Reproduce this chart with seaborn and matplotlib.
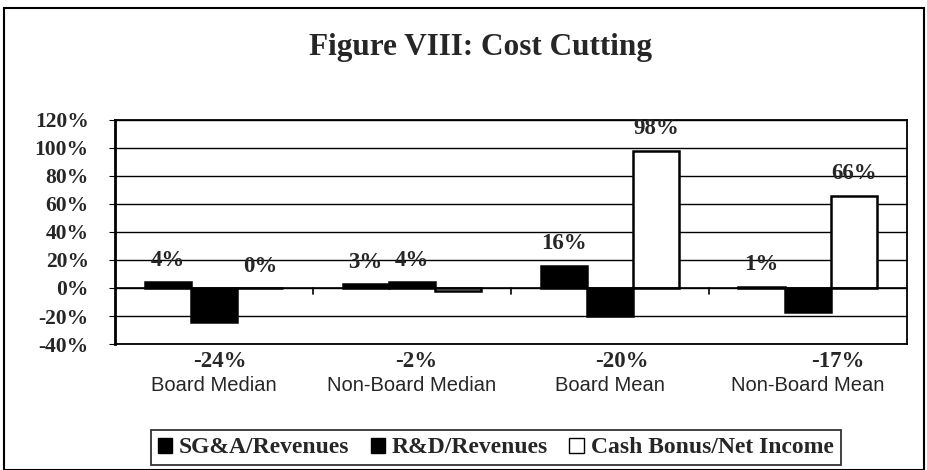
import numpy as np
import pandas as pd
import matplotlib.pyplot as plt
import seaborn as sns
from matplotlib.patches import Patch, Rectangle


CATEGORIES = ['Board Median', 'Non-Board Median', 'Board Mean', 'Non-Board Mean']
SERIES = ['SG&A/Revenues', 'R&D/Revenues', 'Cash Bonus/Net Income']
SGA = [4, 3, 16, 1]
RND = [-24, 4, -20, -17]
BONUS = [0, -2, 98, 66]
Y_TICKS = [-40, -20, 0, 20, 40, 60, 80, 100, 120]

COLORS = ['black', 'black', 'white']
SERIF = 'Liberation Serif'
SANS = 'Liberation Sans'


def build_frame():
    rows = []
    for name, vals in zip(SERIES, [SGA, RND, BONUS]):
        for cat, v in zip(CATEGORIES, vals):
            rows.append({'category': cat, 'series': name, 'value': v})
    return pd.DataFrame(rows)


def main():
    sns.set_style('white')
    df = build_frame()

    fig = plt.figure(figsize=(9.28, 4.70), dpi=100)
    ax = fig.add_axes([0.124, 0.268, 0.853, 0.477])

    sns.barplot(data=df, x='category', y='value', hue='series',
                order=CATEGORIES, hue_order=SERIES,
                palette=COLORS, edgecolor='black', linewidth=1.8,
                width=0.7, saturation=1, ax=ax, legend=False)

    ax.set_ylim(-40, 120)
    ax.set_xlim(-0.5, len(CATEGORIES) - 0.5)
    ax.set_yticks(Y_TICKS)
    ax.set_yticklabels([f'{t}%' for t in Y_TICKS], fontfamily=SERIF,
                       fontweight='bold', fontsize=15.5)
    ax.yaxis.grid(True, color='black', linewidth=1)
    ax.set_axisbelow(True)
    ax.axhline(0, color='black', linewidth=1.2, zorder=1)
    for spine in ax.spines.values():
        spine.set_visible(True)
        spine.set_color('black')
        spine.set_linewidth(1.3)
    ax.spines['left'].set_linewidth(2)
    ax.tick_params(axis='y', length=4, color='black', direction='out', left=True, pad=15)
    ax.tick_params(axis='x', length=0, pad=23)
    ax.set_xticks(range(len(CATEGORIES)))
    ax.set_xticklabels(CATEGORIES, fontfamily=SANS, fontsize=14.5)
    ax.set_xlabel('')
    ax.set_ylabel('')

    # category separators on the zero line
    for b in np.arange(0.5, len(CATEGORIES) - 0.5, 1):
        ax.plot([b, b], [0, -4], color='black', linewidth=1.2, zorder=3)

    # data labels: positive above the bar, negative under the axis
    n = len(SERIES)
    bw = 0.7 / n
    neg_shift = [0.03, 0.02, 0.06, 0.15]
    for si, vals in enumerate([SGA, RND, BONUS]):
        for ci, v in enumerate(vals):
            if v >= 0:
                x = ci - 0.35 + bw * (si + 0.5)
                ax.text(x, v + 8, f'{v}%', ha='center', va='bottom',
                        fontfamily=SERIF, fontweight='bold', fontsize=16.5)
            else:
                ax.annotate(f'{v}%', xy=(ci + neg_shift[ci], 0),
                            xycoords=('data', 'axes fraction'),
                            xytext=(0, -5), textcoords='offset points',
                            ha='center', va='top',
                            fontfamily=SERIF, fontweight='bold', fontsize=16.5)

    handles = [Patch(facecolor=c, edgecolor='black', linewidth=1) for c in COLORS]
    leg = fig.legend(handles, SERIES, loc='center', bbox_to_anchor=(0.534, 0.047),
                     ncol=3, frameon=True, fancybox=False, edgecolor='black',
                     handlelength=0.6, handleheight=0.6, handletextpad=0.3,
                     columnspacing=0.9, borderpad=0.3,
                     prop={'family': SERIF, 'weight': 'bold', 'size': 17})
    leg.get_frame().set_linewidth(1.3)

    fig.text(0.518, 0.9, 'Figure VIII: Cost Cutting', ha='center', va='center',
             fontfamily=SERIF, fontweight='bold', fontsize=22.5)

    fig.patches.append(Rectangle((0.004, 0.0), 0.992, 0.983, transform=fig.transFigure,
                                 fill=False, edgecolor='black', linewidth=1.5))

    fig.savefig('out.png', dpi=100)


if __name__ == '__main__':
    main()
